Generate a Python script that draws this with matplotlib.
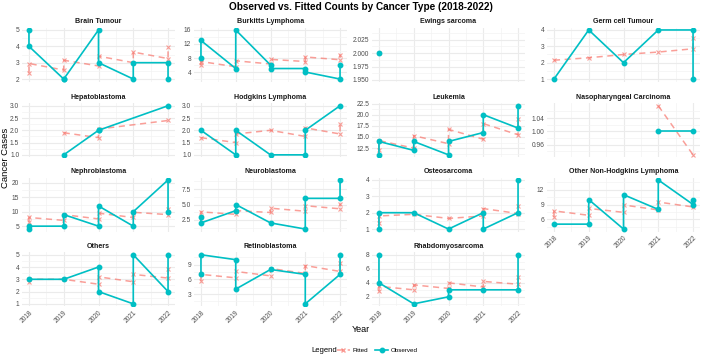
import numpy as np
import matplotlib
matplotlib.use("Agg")
import matplotlib.pyplot as plt
from matplotlib.lines import Line2D
from matplotlib.ticker import FixedLocator, MultipleLocator

plt.rcParams['font.family'] = ['Liberation Sans', 'DejaVu Sans']

# cancer types in facet order
cancer_types = ["Brain Tumour", "Burkitts Lymphoma", "Ewings sarcoma", "Germ cell Tumour",
                "Hepatoblastoma", "Hodgkins Lymphoma", "Leukemia", "Nasopharyngeal Carcinoma",
                "Nephroblastoma", "Neuroblastoma", "Osteosarcoma", "Other Non-Hodgkins Lymphoma",
                "Others", "Retinoblastoma", "Rhabdomyosarcoma"]

# observed counts (year, value) in line order
obs_years = {
    "Brain Tumour": [2018, 2018, 2019, 2019, 2020, 2020, 2021, 2021, 2022, 2022],
    "Burkitts Lymphoma": [2018, 2018, 2019, 2019, 2020, 2020, 2021, 2021, 2022, 2022],
    "Ewings sarcoma": [2018],
    "Germ cell Tumour": [2018, 2019, 2020, 2021, 2022, 2022],
    "Hepatoblastoma": [2019, 2020, 2020, 2022],
    "Hodgkins Lymphoma": [2018, 2019, 2019, 2020, 2021, 2021, 2022],
    "Leukemia": [2018, 2018, 2019, 2019, 2020, 2020, 2021, 2021, 2022, 2022],
    "Nasopharyngeal Carcinoma": [2021, 2022],
    "Nephroblastoma": [2018, 2018, 2019, 2019, 2020, 2020, 2021, 2021, 2022, 2022],
    "Neuroblastoma": [2018, 2018, 2019, 2019, 2020, 2021, 2021, 2022, 2022],
    "Osteosarcoma": [2018, 2018, 2019, 2020, 2021, 2021, 2022, 2022],
    "Other Non-Hodgkins Lymphoma": [2018, 2019, 2019, 2020, 2020, 2021, 2021, 2022, 2022],
    "Others": [2018, 2019, 2020, 2020, 2021, 2021, 2022, 2022],
    "Retinoblastoma": [2018, 2018, 2019, 2019, 2020, 2021, 2021, 2022, 2022],
    "Rhabdomyosarcoma": [2018, 2018, 2019, 2020, 2020, 2021, 2022, 2022],
}
obs_values = {
    "Brain Tumour": [5, 4, 2, 2, 5, 3, 2, 3, 3, 2],
    "Burkitts Lymphoma": [8, 13, 5, 16, 6, 5, 5, 4, 2, 6],
    "Ewings sarcoma": [2],
    "Germ cell Tumour": [1, 4, 2, 4, 4, 1],
    "Hepatoblastoma": [1, 2, 2, 3],
    "Hodgkins Lymphoma": [2, 1, 2, 1, 1, 2, 3],
    "Leukemia": [11, 14, 12, 14, 11, 14, 16, 20, 17, 22],
    "Nasopharyngeal Carcinoma": [1, 1],
    "Nephroblastoma": [4, 5, 5, 9, 5, 12, 5, 10, 21, 10],
    "Neuroblastoma": [3, 2, 4, 5, 2, 1, 6, 6, 9],
    "Osteosarcoma": [1, 2, 2, 1, 2, 1, 2, 4],
    "Other Non-Hodgkins Lymphoma": [5, 5, 10, 4, 11, 8, 14, 9, 10],
    "Others": [3, 3, 4, 2, 1, 5, 2, 5],
    "Retinoblastoma": [7, 11, 10, 4, 8, 7, 1, 7, 11],
    "Rhabdomyosarcoma": [8, 4, 1, 2, 3, 3, 3, 8],
}

# fitted counts (year, value) in line order
fit_years = {
    "Brain Tumour": [2018, 2018, 2019, 2019, 2020, 2020, 2021, 2021, 2022, 2022],
    "Burkitts Lymphoma": [2018, 2018, 2019, 2019, 2020, 2020, 2021, 2021, 2022, 2022],
    "Ewings sarcoma": [2018],
    "Germ cell Tumour": [2018, 2019, 2020, 2021, 2022, 2022],
    "Hepatoblastoma": [2019, 2020, 2020, 2022],
    "Hodgkins Lymphoma": [2018, 2019, 2019, 2020, 2021, 2021, 2022, 2022],
    "Leukemia": [2018, 2018, 2019, 2019, 2020, 2020, 2021, 2021, 2022, 2022],
    "Nasopharyngeal Carcinoma": [2021, 2022],
    "Nephroblastoma": [2018, 2018, 2019, 2019, 2020, 2020, 2021, 2021, 2022, 2022],
    "Neuroblastoma": [2018, 2018, 2019, 2019, 2020, 2020, 2021, 2021, 2022, 2022],
    "Osteosarcoma": [2018, 2018, 2019, 2020, 2021, 2021, 2022, 2022],
    "Other Non-Hodgkins Lymphoma": [2018, 2018, 2019, 2019, 2020, 2020, 2021, 2021, 2022, 2022],
    "Others": [2018, 2018, 2019, 2020, 2020, 2021, 2021, 2022, 2022],
    "Retinoblastoma": [2018, 2018, 2019, 2019, 2020, 2020, 2021, 2021, 2022, 2022],
    "Rhabdomyosarcoma": [2018, 2018, 2019, 2019, 2020, 2020, 2021, 2021, 2022, 2022],
}
fit_values = {
    "Brain Tumour": [2.4, 2.95, 2.55, 3.15, 2.8, 3.4, 3.0, 3.65, 3.25, 3.95],
    "Burkitts Lymphoma": [6.0, 7.0, 5.5, 7.2, 6.3, 7.6, 7.0, 8.3, 7.5, 9.0],
    "Ewings sarcoma": [2.0],
    "Germ cell Tumour": [2.15, 2.3, 2.5, 2.65, 2.85, 3.5],
    "Hepatoblastoma": [1.9, 1.7, 2.05, 2.4],
    "Hodgkins Lymphoma": [1.7, 1.5, 1.85, 2.0, 1.75, 2.1, 1.85, 2.25],
    "Leukemia": [12.0, 14.2, 12.5, 15.3, 13.5, 16.7, 14.5, 18.0, 15.5, 19.0],
    "Nasopharyngeal Carcinoma": [1.077, 0.929],
    "Nephroblastoma": [6.5, 8.0, 7.0, 9.0, 7.5, 9.5, 8.0, 9.8, 9.0, 11.0],
    "Neuroblastoma": [3.0, 3.8, 3.4, 4.0, 3.7, 4.4, 3.9, 4.8, 4.3, 5.1],
    "Osteosarcoma": [1.4, 1.8, 1.9, 1.65, 1.8, 2.25, 1.95, 2.4],
    "Other Non-Hodgkins Lymphoma": [6.5, 7.7, 6.8, 8.2, 7.4, 8.9, 7.9, 9.5, 8.5, 9.8],
    "Others": [2.8, 3.0, 3.0, 2.6, 3.2, 2.8, 3.4, 3.1, 3.8],
    "Retinoblastoma": [5.7, 7.0, 6.3, 7.6, 6.7, 8.2, 7.2, 8.8, 7.6, 9.4],
    "Rhabdomyosarcoma": [2.8, 3.5, 3.0, 3.7, 3.2, 4.0, 3.4, 4.2, 3.8, 4.8],
}

# y tick values per facet
y_ticks = {
    "Brain Tumour": [2, 3, 4, 5],
    "Burkitts Lymphoma": [4, 8, 12, 16],
    "Ewings sarcoma": [1.950, 1.975, 2.000, 2.025],
    "Germ cell Tumour": [1, 2, 3, 4],
    "Hepatoblastoma": [1.0, 1.5, 2.0, 2.5, 3.0],
    "Hodgkins Lymphoma": [1.0, 1.5, 2.0, 2.5, 3.0],
    "Leukemia": [12.5, 15.0, 17.5, 20.0, 22.5],
    "Nasopharyngeal Carcinoma": [0.96, 1.00, 1.04],
    "Nephroblastoma": [5, 10, 15, 20],
    "Neuroblastoma": [2.5, 5.0, 7.5],
    "Osteosarcoma": [1, 2, 3, 4],
    "Other Non-Hodgkins Lymphoma": [6, 9, 12],
    "Others": [1, 2, 3, 4, 5],
    "Retinoblastoma": [3, 6, 9],
    "Rhabdomyosarcoma": [2, 4, 6, 8],
}
y_decimals = {"Ewings sarcoma": 3, "Hepatoblastoma": 1, "Hodgkins Lymphoma": 1,
              "Leukemia": 1, "Nasopharyngeal Carcinoma": 2, "Neuroblastoma": 1}
years = [2018, 2019, 2020, 2021, 2022]

OBS = "#00BFC4"
FIT = "#F8766D"
W, H = 702, 356

fig = plt.figure(figsize=(W / 100, H / 100), dpi=100)

col_left = [22, 194, 372, 547]
row_top = [27.5, 103.3, 177.5, 252.3]
pw, ph = 153, 54

for i, name in enumerate(cancer_types):
    r, c = divmod(i, 4)
    ax = fig.add_axes([col_left[c] / W, 1 - (row_top[r] + ph) / H, pw / W, ph / H])
    ax.plot(fit_years[name], fit_values[name], color=FIT, alpha=0.7, lw=1.1,
            ls=(0, (4, 3)), marker="x", ms=3.5, mew=0.8, zorder=2)
    ax.plot(obs_years[name], obs_values[name], color=OBS, lw=1.2,
            marker="o", ms=3.2, zorder=3)

    ax.set_xlim(2017.8, 2022.2)
    if name == "Ewings sarcoma":
        ax.set_ylim(1.947, 2.048)
    else:
        allv = obs_values[name] + fit_values[name]
        lo, hi = min(allv), max(allv)
        pad = (hi - lo) * 0.05
        ax.set_ylim(lo - pad, hi + pad)

    ax.xaxis.set_major_locator(FixedLocator(years))
    ax.xaxis.set_minor_locator(MultipleLocator(0.5))
    yt = y_ticks[name]
    ax.yaxis.set_major_locator(FixedLocator(yt))
    step = yt[1] - yt[0]
    ax.yaxis.set_minor_locator(FixedLocator(np.arange(yt[0] - step * 1.5, yt[-1] + step, step)))
    d = y_decimals.get(name, 0)
    ax.set_yticklabels([f"{v:.{d}f}" for v in yt])

    ax.grid(which="major", color="#EBEBEB", lw=0.8)
    ax.grid(which="minor", color="#F3F3F3", lw=0.5)
    ax.set_axisbelow(True)
    for s in ax.spines.values():
        s.set_visible(False)
    ax.tick_params(which="both", length=0, labelsize=4.8, labelcolor="#4D4D4D", pad=2)

    show_x = r == 3 or (r == 2 and c == 3)
    if show_x:
        ax.set_xticklabels([str(y) for y in years], rotation=45, ha="right",
                           rotation_mode="anchor")
    else:
        ax.set_xticklabels([])

    ax.set_title(name, fontsize=5.1, fontweight="bold", color="#1A1A1A", pad=3)

fig.text(361 / W, 1 - 7 / H, "Observed vs. Fitted Counts by Cancer Type (2018-2022)",
         ha="center", va="center", fontsize=7.2, fontweight="bold")
fig.text(6 / W, 1 - 158 / H, "Cancer Cases", rotation=90, ha="center", va="center", fontsize=6.8)
fig.text(361 / W, 1 - 329 / H, "Year", ha="center", va="center", fontsize=6.5)

fig.text(311 / W, 1 - 350 / H, "Legend", ha="left", va="center", fontsize=5.5)
handles = [Line2D([], [], color=FIT, alpha=0.7, lw=1.1, ls=(0, (4, 3)), marker="x", ms=3.5),
           Line2D([], [], color=OBS, lw=1.2, marker="o", ms=3.2)]
fig.legend(handles, ["Fitted", "Observed"], ncol=2, frameon=False, fontsize=4.5,
           loc="center left", bbox_to_anchor=(334 / W, 1 - 350 / H),
           handlelength=2.2, columnspacing=1.0, handletextpad=0.4, borderaxespad=0)

fig.savefig("out.png", dpi=100, facecolor="white")
